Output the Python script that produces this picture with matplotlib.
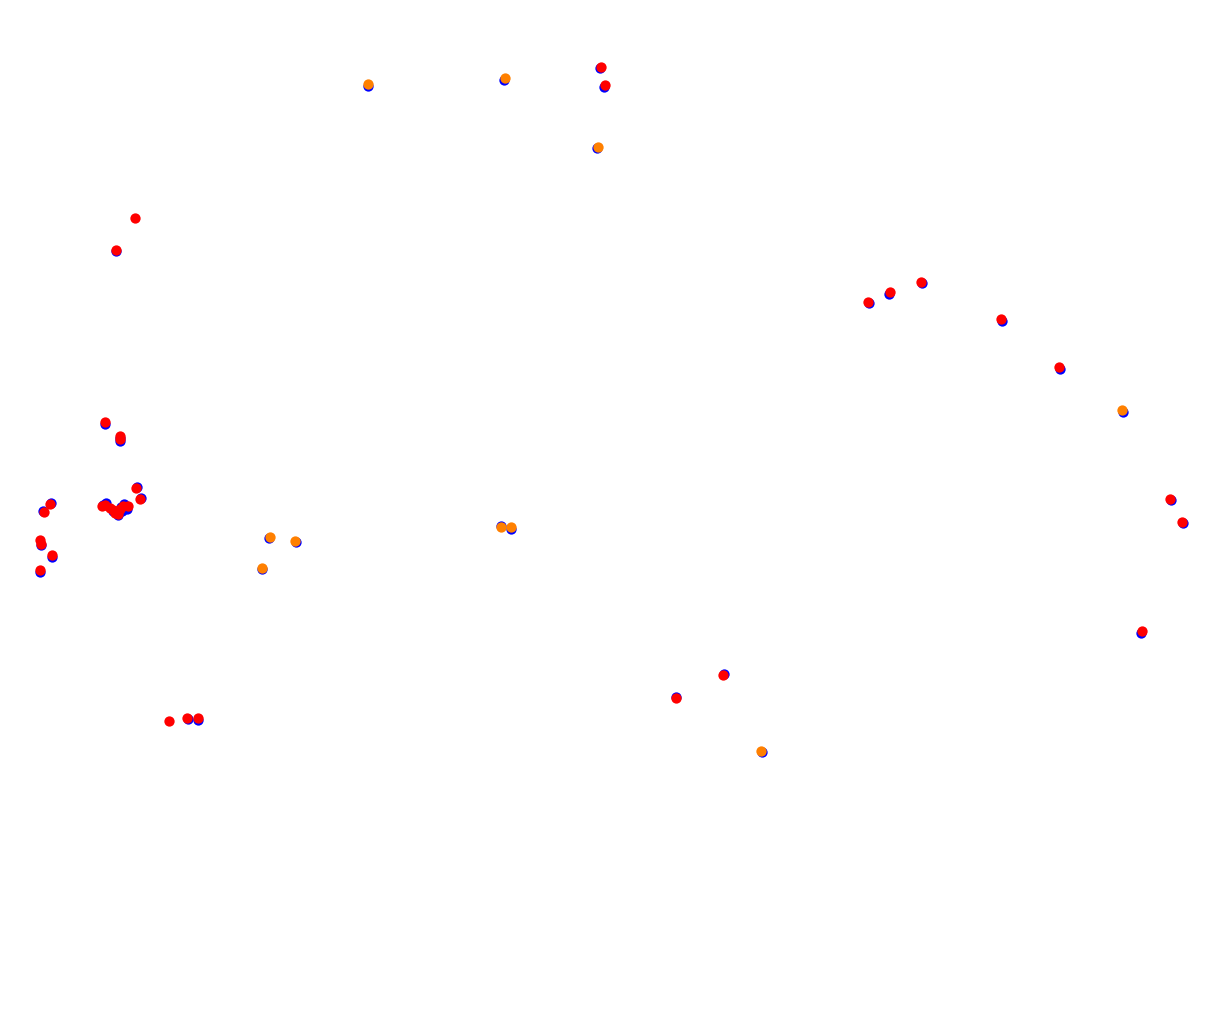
import matplotlib
matplotlib.use("Agg")
import matplotlib.pyplot as plt

# reference positions (blue)
blue_x = [105.3, 120, 120, 137, 141, 51, 43, 41, 51.5, 39.5,
          103, 106, 113, 118, 121, 124, 127, 122, 116.3,
          368, 503.7, 600, 604, 597, 269, 296, 261.7, 501, 511,
          188, 198, 868.5, 889, 921.5, 1002, 1060, 1122.7, 1171, 1183,
          1141, 724, 675.7, 762]
blue_y = [424.3, 438, 441, 486.7, 497.7, 503, 511, 545, 557, 571.5,
          505, 503, 511, 515, 507, 504, 509, 511, 250.7,
          86, 79.7, 68, 87, 148, 538, 542, 569, 525.5, 528.5,
          719, 719.5, 303, 293.5, 283, 320.5, 368.7, 411.5, 500, 523,
          633, 674, 697, 752]

# matched points, red
red_x = [105, 120, 120, 135.5, 140, 50, 43.7, 39.7, 41.3, 51.7, 39.7,
         101.7, 105, 110, 115, 120, 123.3, 128.3, 118.3, 113.3,
         134.7, 115.7, 601, 605.3, 169, 187.3, 197.7,
         868, 890, 920.7, 1001, 1058.7, 1170, 1182.3, 1142, 723.3, 675.7]
red_y = [422, 436, 439, 488, 498.7, 503.7, 511.7, 540, 544.3, 555.3, 570.3,
         506.3, 504.7, 508, 513, 508.7, 506.3, 506.3, 514, 509.7,
         217.7, 250, 66.7, 85.3, 720.7, 717.7, 717.7,
         302.3, 291.7, 281.7, 319, 366.7, 498.7, 522.3, 631, 675, 697.7]

# matched points, orange
orange_x = [368, 505, 597.7, 270, 295, 261.7, 501, 511, 1121.7, 761]
orange_y = [84.3, 78, 146.7, 536.7, 541, 567.7, 527.3, 526.7, 410, 750.7]

fig = plt.figure(figsize=(12.28, 10.16), dpi=100)
ax = fig.add_axes([0, 0, 1, 1])
ax.scatter(blue_x, blue_y, s=55, color="#0000ff", linewidths=0)
ax.scatter(red_x, red_y, s=55, color="#ff0000", linewidths=0)
ax.scatter(orange_x, orange_y, s=55, color="#ff8000", linewidths=0)
ax.set_xlim(0, 1228)
ax.set_ylim(1016, 0)
ax.axis("off")

fig.savefig("out.png", dpi=100)
